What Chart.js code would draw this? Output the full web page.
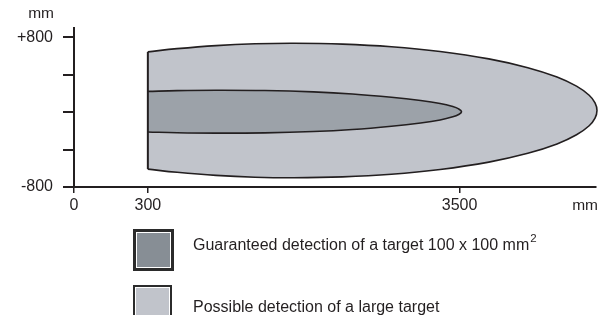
<!DOCTYPE html>
<html>
<head>
<meta charset="utf-8">
<script src="https://cdn.jsdelivr.net/npm/chart.js@4/dist/chart.umd.min.js"></script>
<style>
html,body{margin:0;padding:0;background:#ffffff;}
#wrap{width:609px;height:315px;position:relative;}
</style>
</head>
<body>
<div id="wrap"><canvas id="c" width="609" height="315"></canvas></div>
<script>
// ---------- data (mm) ----------
// outer zone: possible detection of a large target
const outerX      = [300, 600, 1000, 1400, 1800, 2300, 2800, 3300, 3800, 4200, 4500, 4700, 4830, 4890, 4910];
const outerTop    = [645, 679, 712, 731, 737, 728, 700, 649, 570, 476, 376, 278, 181, 100, 18];
const outerBottom = [-609, -643, -676, -695, -701, -692, -664, -613, -534, -440, -340, -242, -145, -64, 18];

// inner zone: guaranteed detection of a target 100 x 100 mm²
const innerX      = [300, 600, 1000, 1500, 2000, 2400, 2800, 3100, 3300, 3430, 3490, 3520];
const innerTop    = [222, 230, 234, 231, 217, 195, 160, 125, 93, 60, 35, 5];
const innerBottom = [-212, -220, -224, -221, -207, -185, -150, -115, -83, -50, -25, 5];

// axes
const xTickValues = [0, 300, 3500];
const xTickLabels = ['0', '300', '3500'];
const X_AXIS_START = -458;   // broken axis: the "0" label sits at the axis start
const X_AXIS_END = 4900;
const yTickValues = [-800, -400, 0, 400, 800];
const yTickLabels = ['-800', '', '', '', '+800'];
const Y_MIN = -800, Y_MAX = 900;
const unitLabel = 'mm';

// legend
const legendLabels = ['Guaranteed detection of a target 100 x 100 mm', 'Possible detection of a large target'];
const legendSup    = ['2', ''];
const legendColors = ['#878e95', '#c1c4cb'];

// ---------- styles ----------
const FONT = '"Liberation Sans", Arial, Helvetica, sans-serif';
const INK = '#231f20';
const OUTER_FILL = '#c1c4cb';
const INNER_FILL = '#9ca2a9';

function outline(xs, top, bottom) {
  const pts = xs.map((x, i) => ({x: x, y: top[i]}));
  for (let i = xs.length - 2; i >= 0; i--) pts.push({x: xs[i], y: bottom[i]});
  return pts;
}
function xPos(v) { return v === 0 ? X_AXIS_START : v; }

const unitsAndLegend = {
  id: 'unitsAndLegend',
  afterDraw(chart) {
    const ctx = chart.ctx;
    const area = chart.chartArea;
    ctx.save();
    ctx.fillStyle = INK;
    ctx.font = '15.5px ' + FONT;
    ctx.textBaseline = 'alphabetic';
    ctx.textAlign = 'right';
    // y unit
    ctx.fillText(unitLabel, area.left - 20, 17.5);
    // x unit
    ctx.fillText(unitLabel, area.right + 2, 210);
    // legend
    const boxes = [{x: 133, y: 229, w: 41, h: 42, b: 3}, {x: 133, y: 285, w: 39, h: 42, b: 2}];
    const textY = [249.5, 312];
    ctx.textAlign = 'left';
    legendLabels.forEach((lab, i) => {
      const bx = boxes[i];
      ctx.fillStyle = '#2b2b2b';
      ctx.fillRect(bx.x, bx.y, bx.w, bx.h);
      ctx.fillStyle = '#ffffff';
      ctx.fillRect(bx.x + bx.b, bx.y + bx.b, bx.w - 2 * bx.b, bx.h - 2 * bx.b);
      ctx.fillStyle = legendColors[i];
      ctx.fillRect(bx.x + bx.b + 1, bx.y + bx.b + 1, bx.w - 2 * bx.b - 2, bx.h - 2 * bx.b - 2);
      ctx.fillStyle = INK;
      ctx.font = '16px ' + FONT;
      ctx.fillText(lab, 193, textY[i]);
      if (legendSup[i]) {
        const w = ctx.measureText(lab).width;
        ctx.font = '11.5px ' + FONT;
        ctx.fillText(legendSup[i], 193 + w + 1, textY[i] - 7.5);
      }
    });
    ctx.restore();
  }
};

new Chart(document.getElementById('c'), {
  type: 'line',
  data: {
    datasets: [
      {
        label: 'edge',
        data: [{x: outerX[0], y: outerBottom[0]}, {x: outerX[0], y: outerTop[0]}],
        borderColor: INK, borderWidth: 2, pointRadius: 0, tension: 0, fill: false, order: 0
      },
      {
        label: legendLabels[0],
        data: outline(innerX, innerTop, innerBottom),
        borderColor: INK, borderWidth: 1.6, backgroundColor: INNER_FILL,
        pointRadius: 0, tension: 0.4, fill: 'shape', order: 1
      },
      {
        label: legendLabels[1],
        data: outline(outerX, outerTop, outerBottom),
        borderColor: INK, borderWidth: 1.6, backgroundColor: OUTER_FILL,
        pointRadius: 0, tension: 0.4, fill: 'shape', order: 2, clip: false
      }
    ]
  },
  options: {
    responsive: false,
    devicePixelRatio: 1,
    animation: false,
    layout: {padding: {top: 28, right: 13, bottom: 98, left: 0}},
    plugins: {legend: {display: false}, tooltip: {enabled: false}, title: {display: false}},
    scales: {
      x: {
        type: 'linear',
        min: X_AXIS_START, max: X_AXIS_END,
        afterBuildTicks: s => { s.ticks = xTickValues.map(v => ({value: xPos(v)})); },
        afterFit: s => { s.height = 30; },
        border: {display: true, color: INK, width: 2},
        grid: {drawOnChartArea: false, drawTicks: true, tickLength: 6, color: INK, lineWidth: 1.5},
        ticks: {
          color: INK, font: {family: FONT, size: 16}, padding: 3, maxRotation: 0, autoSkip: false,
          callback: (val, idx) => xTickLabels[idx]
        }
      },
      y: {
        type: 'linear',
        min: Y_MIN, max: Y_MAX,
        afterBuildTicks: s => { s.ticks = yTickValues.map(v => ({value: v})); },
        afterFit: s => { s.width = 74; },
        border: {display: true, color: INK, width: 2},
        grid: {drawOnChartArea: false, drawTicks: true, tickLength: 11, color: INK, lineWidth: 2},
        ticks: {
          color: INK, font: {family: FONT, size: 16}, padding: 10, autoSkip: false,
          callback: (val, idx) => yTickLabels[idx]
        }
      }
    }
  },
  plugins: [unitsAndLegend]
});
</script>
</body>
</html>
